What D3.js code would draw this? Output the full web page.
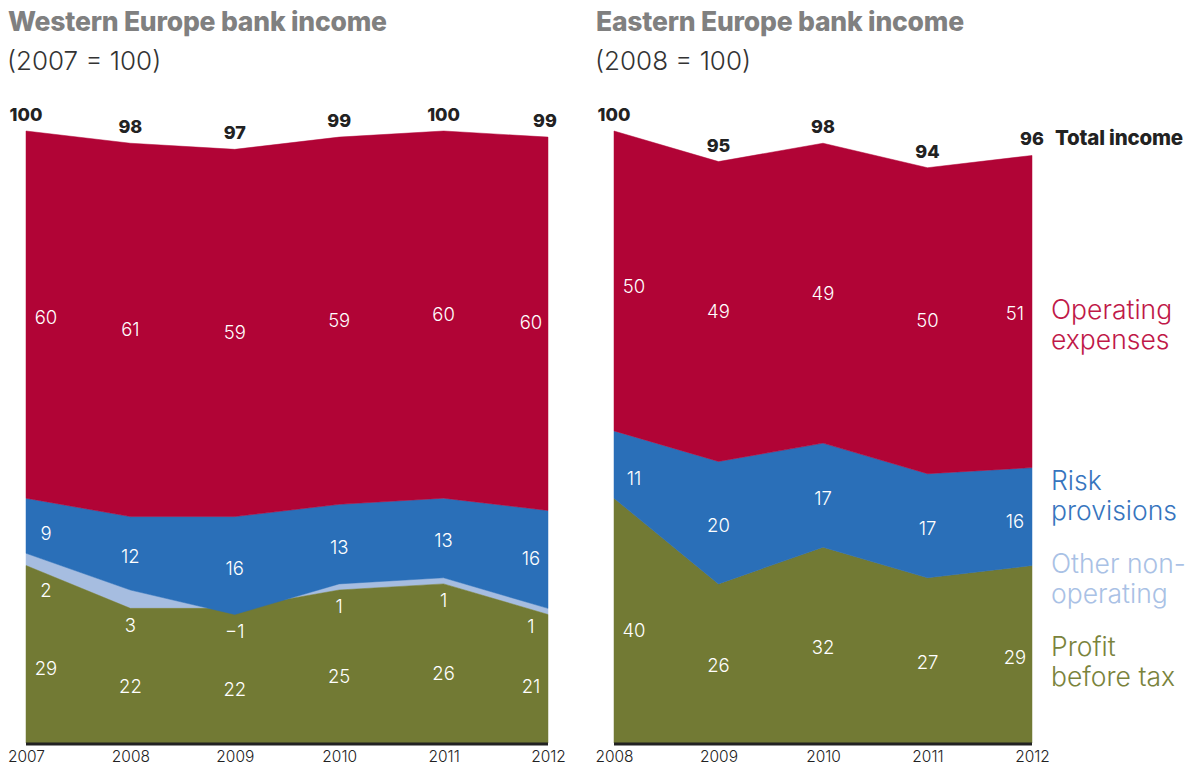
<!DOCTYPE html>
<html>
<head>
<meta charset="utf-8">
<script src="https://cdn.jsdelivr.net/npm/d3@7"></script>
<style>
  body { margin: 0; background: #fff; }
  svg { font-family: Inter, "Noto Sans", sans-serif; }
</style>
</head>
<body>
<div id="chart"></div>
<script>
// data
const westYears = [2007, 2008, 2009, 2010, 2011, 2012];
const westProfit = [29, 22, 22, 25, 26, 21];
const westOther = [2, 3, -1, 1, 1, 1];
const westRisk = [9, 12, 16, 13, 13, 16];
const westOpex = [60, 61, 59, 59, 60, 60];
const westTotal = [100, 98, 97, 99, 100, 99];

const eastYears = [2008, 2009, 2010, 2011, 2012];
const eastProfit = [40, 26, 32, 27, 29];
const eastOther = [0, 0, 0, 0, 0];
const eastRisk = [11, 20, 17, 17, 16];
const eastOpex = [50, 49, 49, 50, 51];
const eastTotal = [100, 95, 98, 94, 96];

const keys = ['profit', 'other', 'risk', 'opex'];
const colors = { profit: '#727a34', other: '#a6bde0', risk: '#2a6fb8', opex: '#b10436' };
const legend = [
  { key: 'opex', lines: ['Operating', 'expenses'], y: 319, color: '#c01848' },
  { key: 'risk', lines: ['Risk', 'provisions'], y: 490, color: '#3775be' },
  { key: 'other', lines: ['Other non-', 'operating'], y: 573, color: '#a9c1e5' },
  { key: 'profit', lines: ['Profit', 'before tax'], y: 656, color: '#7a833c' }
];

const W = 1200, H = 769;
const base = 743;
const y = d3.scaleLinear().domain([0, 100]).range([base, 131]);

const svg = d3.select('#chart').append('svg')
  .attr('width', W).attr('height', H);

function drawPanel(p) {
  const x = d3.scaleLinear().domain(d3.extent(p.years)).range(p.range);
  const rows = p.years.map((yr, i) => ({
    year: yr, profit: p.profit[i], other: p.other[i], risk: p.risk[i], opex: p.opex[i], total: p.total[i]
  }));
  const series = d3.stack().keys(keys)(rows);
  const byKey = {};
  series.forEach(s => byKey[s.key] = s);

  const g = svg.append('g');

  // titles
  g.append('text').attr('x', p.range[0] - 18).attr('y', 31)
    .attr('font-size', 26.5).attr('font-weight', 800).attr('fill', '#808080')
    .attr('letter-spacing', -0.2)
    .text(p.title);
  g.append('text').attr('x', p.range[0] - 19).attr('y', 70)
    .attr('font-size', 26).attr('font-weight', 300).attr('fill', '#333')
    .text(p.sub);

  const area = d3.area()
    .x(d => x(d.data.year))
    .y0(d => y(d[0]))
    .y1(d => y(d[1]));

  // other first so the green covers its negative part
  ['other', 'profit', 'risk'].forEach(k => {
    g.append('path').datum(byKey[k])
      .attr('d', area)
      .attr('fill', colors[k])
      .attr('stroke', colors[k]).attr('stroke-width', 0.5);
  });
  // operating expenses run up to the total line
  const topArea = d3.area()
    .x(d => x(d.data.year))
    .y0(d => y(d[0]))
    .y1(d => y(d.data.total));
  g.append('path').datum(byKey.opex)
    .attr('d', topArea)
    .attr('fill', colors.opex)
    .attr('stroke', colors.opex).attr('stroke-width', 0.5);

  // baseline
  g.append('line')
    .attr('x1', p.range[0]).attr('x2', p.range[1])
    .attr('y1', base + 1).attr('y2', base + 1)
    .attr('stroke', '#222').attr('stroke-width', 3);

  // year labels
  const axis = d3.axisBottom(x).tickValues(p.years).tickFormat(d3.format('d')).tickSize(0);
  const ax = g.append('g').attr('transform', `translate(0,${base + 5})`).call(axis);
  ax.select('.domain').remove();
  ax.selectAll('text').attr('font-size', 15.5).attr('font-weight', 300).attr('fill', '#222')
    .attr('font-family', 'Inter, sans-serif');

  // value at a shifted x position, interpolated between years
  const n = p.years.length;
  const dxs = p.years.map((yr, i) => i === 0 ? 20 : (i === n - 1 ? -17 : 0));
  function at(fn, i) {
    const dx = dxs[i];
    if (dx === 0) return fn(i);
    const j = dx > 0 ? i + 1 : i - 1;
    const t = Math.abs(dx) / Math.abs(x(p.years[j]) - x(p.years[i]));
    return fn(i) + t * (fn(j) - fn(i));
  }

  const labels = g.append('g').attr('fill', '#fff').attr('font-size', 18.5)
    .attr('font-weight', 300).attr('text-anchor', 'middle');

  rows.forEach((r, i) => {
    const lx = x(r.year) + dxs[i];
    const greenTop = at(k => y(Math.min(byKey.other[k][0], byKey.other[k][1])), i);
    const riskLo = at(k => y(byKey.risk[k][0]), i);
    const riskHi = at(k => y(byKey.risk[k][1]), i);
    const topY = at(k => y(rows[k].total), i);

    labels.append('text').attr('x', lx).attr('y', (riskHi + topY) / 2)
      .attr('dy', '0.35em').text(r.opex);
    labels.append('text').attr('x', lx).attr('y', (riskLo + riskHi) / 2 + 3)
      .attr('dy', '0.35em').text(r.risk);

    let profitY;
    if (p.showOther) {
      const oy = greenTop + 17;
      labels.append('text').attr('x', lx).attr('y', oy)
        .attr('dy', '0.35em').text(d3.format('d')(r.other).replace('-', '\u2212'));
      profitY = (oy + base) / 2 + 2;
    } else {
      profitY = (greenTop + base) / 2 + 2;
    }
    labels.append('text').attr('x', lx).attr('y', profitY)
      .attr('dy', '0.35em').text(r.profit);

    // totals above the line
    g.append('text').attr('x', x(r.year) + (i === n - 1 && p.showOther ? -3 : 0))
      .attr('y', y(r.total) - 10)
      .attr('text-anchor', 'middle').attr('font-size', 18).attr('font-weight', 800)
      .attr('fill', '#222').text(r.total);
  });
  return x;
}

drawPanel({
  title: 'Western Europe bank income', sub: '(2007 = 100)',
  years: westYears, profit: westProfit, other: westOther, risk: westRisk,
  opex: westOpex, total: westTotal, range: [26, 548], showOther: true
});

drawPanel({
  title: 'Eastern Europe bank income', sub: '(2008 = 100)',
  years: eastYears, profit: eastProfit, other: eastOther, risk: eastRisk,
  opex: eastOpex, total: eastTotal, range: [614, 1032], showOther: false
});

svg.append('text')
  .attr('x', 1055).attr('y', y(eastTotal[eastTotal.length - 1]) - 10)
  .attr('font-size', 20.5).attr('font-weight', 800).attr('fill', '#222')
  .attr('letter-spacing', -0.2)
  .text('Total income');

// legend, one text per line
const lg = svg.append('g').attr('font-size', 26.5).attr('font-weight', 300);
legend.forEach(l => {
  l.lines.forEach((s, i) => {
    lg.append('text').attr('x', 1051).attr('y', l.y + i * 30)
      .attr('fill', l.color).text(s);
  });
});
</script>
</body>
</html>
